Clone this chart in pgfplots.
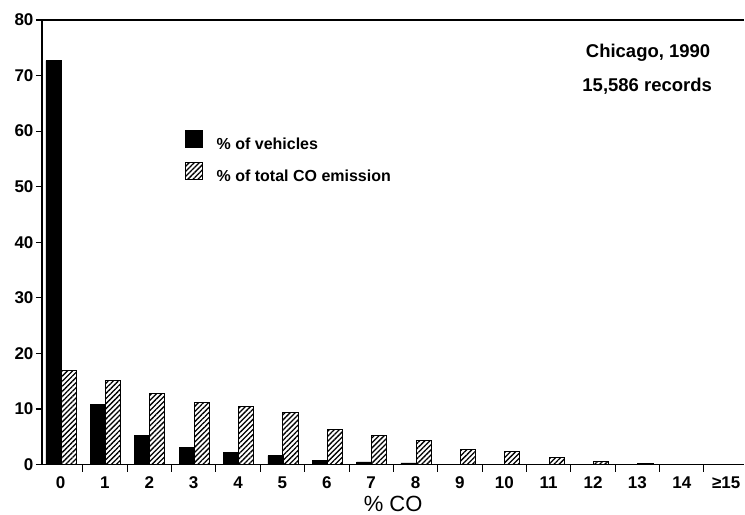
\documentclass[border=0pt]{standalone}
\usepackage{fontspec}
\setmainfont{Liberation Sans}
\usepackage{pgfplots}
\pgfplotsset{compat=1.18}
\usetikzlibrary{patterns.meta}
\pgfplotstableread{
x veh emis
0 72.7 16.9
1 10.8 15.2
2 5.2 12.8
3 3.1 11.2
4 2.2 10.5
5 1.6 9.4
6 0.8 6.4
7 0.5 5.3
8 0.3 4.3
9 0.1 2.8
10 0.05 2.3
11 0 1.2
12 0 0.5
13 0 0.15
14 0 0.05
15 0 0.05
}\data
\begin{document}
\begin{tikzpicture}
\begin{axis}[
  scale only axis, width=703pt, height=445pt,
  xmin=-0.42, xmax=15.41, ymin=0, ymax=80,
  clip=false,
  axis lines=left, axis line style={-, line width=1.3pt},
  xtick={0,...,15},
  xticklabels={0,1,2,3,4,5,6,7,8,9,10,11,12,13,14,≥15},
  minor xtick={0.5,1.5,...,14.5},
  ytick={0,10,...,80},
  tick align=outside,
  major x tick style={draw=none},
  minor x tick style={line width=1pt, black},
  major y tick style={line width=1.2pt, black},
  major tick length=6pt, minor tick length=7pt,
  /pgf/number format/assume math mode=true,
  ticklabel style={font=\bfseries\fontsize{17}{19}\selectfont},
  yticklabel style={xshift=1pt},
  xticklabel style={yshift=-3pt},
  xlabel={\% CO},
  xlabel style={font=\fontsize{22}{24}\selectfont, at={(rel axis cs:0.5,0)}, anchor=center, yshift=-39pt},
  legend style={at={(rel axis cs:0.203,0.752)}, anchor=north west, draw=none, fill=none,
    font=\bfseries\fontsize{16}{18}\selectfont, row sep=9pt, inner sep=0pt,
    /tikz/every odd column/.append style={column sep=12pt}},
  legend cell align=left,
]
\addplot[ybar, bar width=0.34, bar shift=-0.16, fill=black, draw=black, line width=0.6pt,
  legend image code/.code={\draw[fill=black, draw=black] (0pt,-3pt) rectangle (17pt,14pt);}]
  table[x=x, y=veh] {\data};
\addlegendentry{\% of vehicles}
\addplot[ybar, bar width=0.34, bar shift=0.18, draw=black, line width=0.9pt,
  pattern={Lines[angle=45, distance=3.6pt, line width=1.3pt]}, pattern color=black,
  legend image code/.code={\draw[draw=black, line width=1pt, pattern={Lines[angle=45, distance=3.6pt, line width=1.3pt]}, pattern color=black] (0pt,-3pt) rectangle (17pt,14pt);}]
  table[x=x, y=emis] {\data};
\addlegendentry{\% of total CO emission}
\draw[line width=1.3pt] (rel axis cs:0,1) -- (rel axis cs:1,1);
\node[font=\bfseries\fontsize{18.5}{20}\selectfont] at (axis cs:13.24,74.1) {Chicago, 1990};
\node[font=\bfseries\fontsize{18.5}{20}\selectfont] at (axis cs:13.22,68.0) {15,586 records};
\end{axis}
\path ([shift={(-42pt,-49pt)}]current axis.south west) rectangle ([shift={(0pt,20pt)}]current axis.north east);
\end{tikzpicture}
\end{document}
